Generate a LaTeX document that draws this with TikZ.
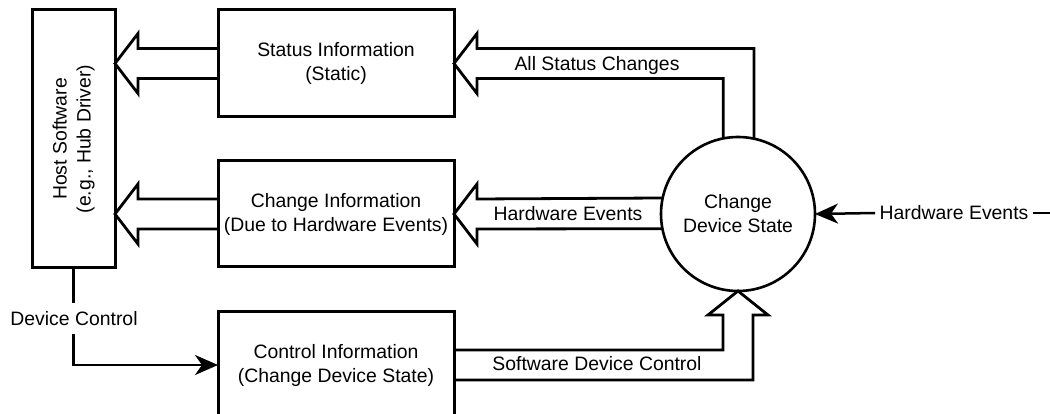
\documentclass[tikz,border=0pt]{standalone}
\usepackage{fontspec}
\setmainfont{Liberation Sans}
\usetikzlibrary{arrows.meta,calc}
\begin{document}
\begin{tikzpicture}[x=1pt,y=-1pt,
  every node/.style={font=\fontsize{19.4}{24}\selectfont, outer sep=0pt},
  boxnode/.style={draw, line width=3pt, minimum width=236pt, align=center, inner sep=0pt},
  hollow/.style={draw, line width=2.8pt, line join=miter, miter limit=10},
  thin/.style={line width=2.5pt},
  tipstyle/.style={-{Stealth[length=23pt,width=20pt,inset=7pt]}},
  lbl/.style={inner sep=0pt}
]
\useasboundingbox (0,0) rectangle (1050,414);
\fill[white] (0,0) rectangle (1050,414);

\node[draw, line width=3pt, minimum width=83pt, minimum height=258pt, inner sep=0pt] (host) at (73.5,139) {};
\node[rotate=90, align=center, inner sep=0pt] (hosttxt) at (host.center) {Host Software\\(e.g., Hub Driver)};

\node[boxnode, minimum height=107pt] (status) at (336,63.5) {Status Information\\(Static)};
\node[boxnode, minimum height=106pt] (change) at (336,214) {Change Information\\(Due to Hardware Events)};
\node[boxnode, minimum height=108pt] (control) at (336,365) {Control Information\\(Change Device State)};

\node[draw, circle, line width=2.6pt, minimum size=154pt, inner sep=0pt, align=center] (circ) at (738,214) {Change\\Device State};

% hollow arrows to host
\draw[hollow] ($(status.west)+(0,-15)$) -- ++(-80,0) -- ++(0,-15) -- (host.east |- status.west) -- ++(23,30) -- ++(0,-15) -- ($(status.west)+(0,15)$);
\draw[hollow] ($(change.west)+(0,-15)$) -- ++(-80,0) -- ++(0,-15) -- (host.east |- change.west) -- ++(23,30) -- ++(0,-15) -- ($(change.west)+(0,15)$);

% All status changes
\draw[hollow] (circ.101.2) |- ($(status.east)+(23,15)$) -- ++(0,15) -- (status.east) -- ++(23,-30) -- ++(0,15) -| (circ.78.8);
\node[lbl] (asc) at (597,65) {All Status Changes};

% Hardware events (middle)
\draw[hollow] (circ.168.8) -- ($(change.east)+(23,-15)$) -- ++(0,-15) -- (change.east) -- ++(23,30) -- ++(0,-15) -- (circ.191.2);
\node[lbl] (hwmid) at (568,214) {Hardware Events};

% Software device control
\draw[hollow] ($(control.east)+(0,-15)$) -| ($(circ.south)+(-15,24)$) -- ++(-15,0) -- (circ.south) -- ++(30,24) -- ++(-15,0) |- ($(control.east)+(0,15)$);
\node[lbl] (sdc) at (597,364) {Software Device Control};

% Device control
\node[inner sep=0pt, minimum height=31pt] (dc) at (74,318.5) {Device Control};
\draw[thin] (host.south) -- (host.south |- dc.north);
\draw[thin, tipstyle] (host.south |- dc.south) |- (control.west);

% Hardware events input
\node[inner xsep=4.5pt, inner ysep=0pt] (hwin) at (954,213) {Hardware Events};
\coordinate (hwend) at (1050,213);
\draw[thin] (hwin.east) -- (hwend);
\draw[thin, tipstyle] (hwin.west) -- (circ.east);
\end{tikzpicture}
\end{document}
